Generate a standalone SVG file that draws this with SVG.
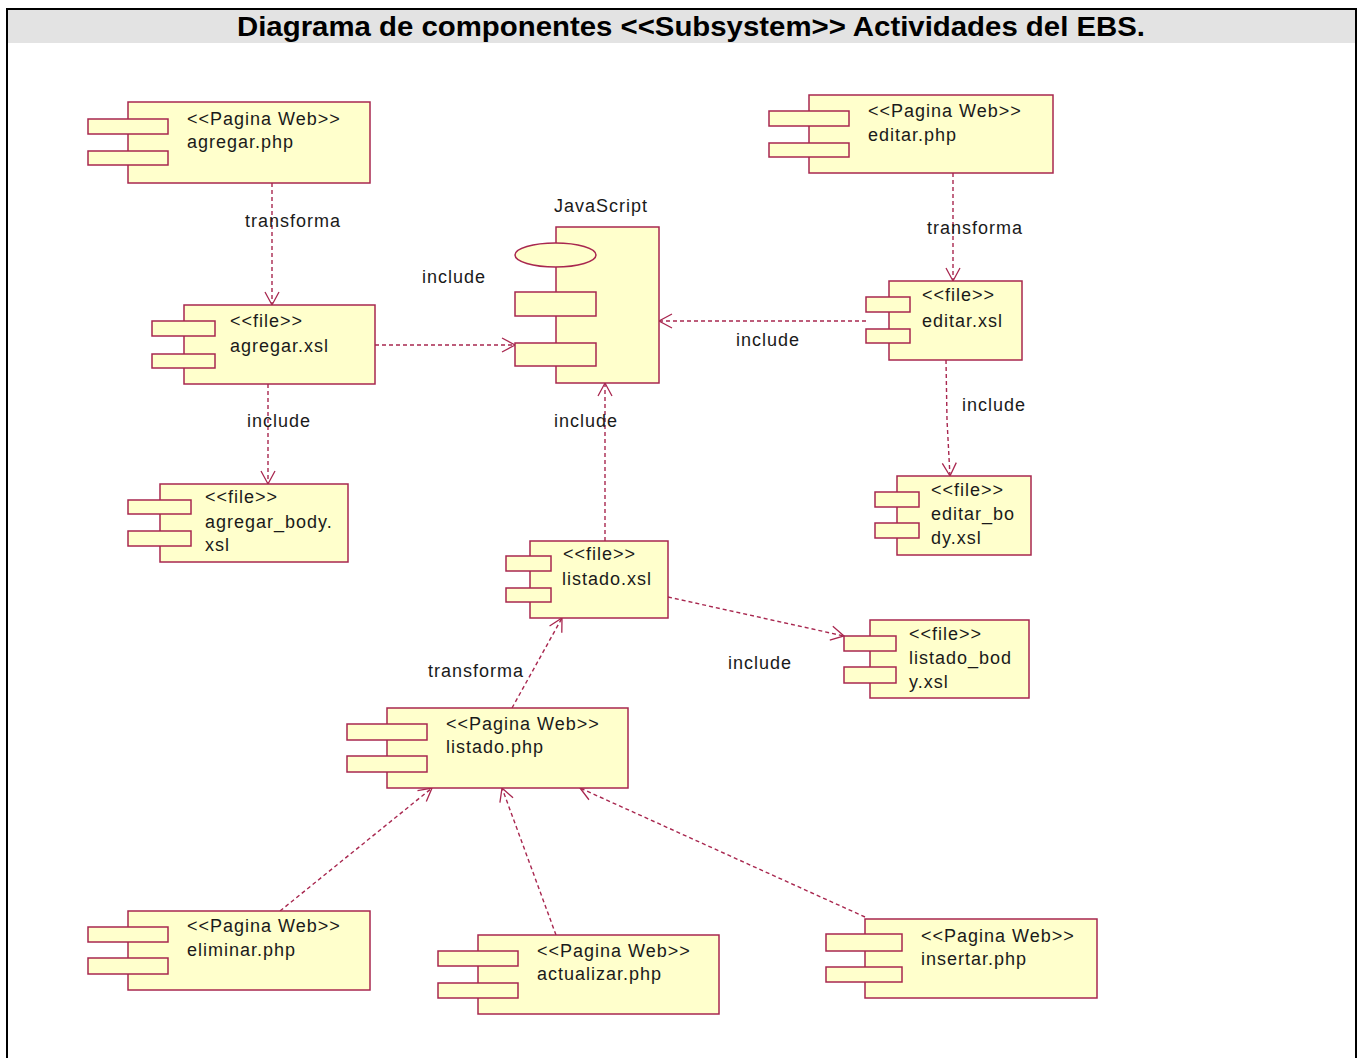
<svg xmlns="http://www.w3.org/2000/svg" width="1363" height="1058" viewBox="0 0 1363 1058">
  <style>
    .frame { fill: none; stroke: #000; stroke-width: 2; }
    .band { fill: #e3e3e3; }
    .title { font-family: "Liberation Sans", Arial, sans-serif; font-weight: bold; font-size: 27px; fill: #000; }
    .body { fill: #ffffcc; stroke: #a8274f; stroke-width: 1.5; }
    .port { fill: #ffffcc; stroke: #a8274f; stroke-width: 1.5; }
    .txt { font-family: "Liberation Sans", Arial, sans-serif; font-size: 18px; letter-spacing: 1px; fill: #1a1a1a; }
    .dep { fill: none; stroke: #a8274f; stroke-width: 1.4; stroke-dasharray: 4 3; marker-end: url(#open); }
  </style>
  <defs>
    <marker id="open" markerUnits="userSpaceOnUse" markerWidth="18" markerHeight="18" refX="14" refY="8" orient="auto">
      <path d="M1,1 L14,8 L1,15" fill="none" stroke="#a8274f" stroke-width="1.3"/>
    </marker>
  </defs>

  <rect x="0" y="0" width="1363" height="1058" fill="#ffffff"/>
  <rect class="band" x="8" y="10" width="1347" height="33"/>
  <rect class="frame" x="7" y="9" width="1349" height="1060"/>
  <text class="title" x="691" y="36" text-anchor="middle" textLength="908" lengthAdjust="spacingAndGlyphs">Diagrama de componentes &lt;&lt;Subsystem&gt;&gt; Actividades del EBS.</text>

  <!-- dependencies -->
  <g id="connectors">
    <path class="dep" d="M272,183 L272,305"/>
    <path class="dep" d="M953,173 L953,281"/>
    <path class="dep" d="M375,345 L515,345"/>
    <path class="dep" d="M866,321 L659,321"/>
    <path class="dep" d="M946,360 L947,420 L950,476"/>
    <path class="dep" d="M268,384 L268,484"/>
    <path class="dep" d="M605,541 L605,383"/>
    <path class="dep" d="M668,597 L844,636"/>
    <path class="dep" d="M512,708 L562,618"/>
    <path class="dep" d="M280,911 L432,788"/>
    <path class="dep" d="M556,935 L502,788"/>
    <path class="dep" d="M865,917 L580,788"/>
    <text class="txt" x="245" y="227">transforma</text>
    <text class="txt" x="927" y="234">transforma</text>
    <text class="txt" x="422" y="283">include</text>
    <text class="txt" x="736" y="346">include</text>
    <text class="txt" x="962" y="411">include</text>
    <text class="txt" x="247" y="427">include</text>
    <text class="txt" x="554" y="427">include</text>
    <text class="txt" x="728" y="669">include</text>
    <text class="txt" x="428" y="677">transforma</text>
  </g>

  <g id="agregar-php">
    <rect class="body" x="128" y="102" width="242" height="81"/>
    <rect class="port" x="88" y="119" width="80" height="15"/>
    <rect class="port" x="88" y="151" width="80" height="14"/>
    <text class="txt" x="187" y="125">&lt;&lt;Pagina Web&gt;&gt;</text>
    <text class="txt" x="187" y="148">agregar.php</text>
  </g>

  <g id="editar-php">
    <rect class="body" x="809" y="95" width="244" height="78"/>
    <rect class="port" x="769" y="111" width="80" height="15"/>
    <rect class="port" x="769" y="143" width="80" height="14"/>
    <text class="txt" x="868" y="117">&lt;&lt;Pagina Web&gt;&gt;</text>
    <text class="txt" x="868" y="141">editar.php</text>
  </g>

  <g id="agregar-xsl">
    <rect class="body" x="184" y="305" width="191" height="79"/>
    <rect class="port" x="152" y="321" width="63" height="15"/>
    <rect class="port" x="152" y="354" width="63" height="14"/>
    <text class="txt" x="230" y="327">&lt;&lt;file&gt;&gt;</text>
    <text class="txt" x="230" y="352">agregar.xsl</text>
  </g>

  <g id="javascript">
    <text class="txt" x="601" y="212" text-anchor="middle">JavaScript</text>
    <rect class="body" x="556" y="227" width="103" height="156"/>
    <ellipse class="port" cx="555.5" cy="255" rx="40.5" ry="12"/>
    <rect class="port" x="515" y="292" width="81" height="24"/>
    <rect class="port" x="515" y="343" width="81" height="23"/>
  </g>

  <g id="editar-xsl">
    <rect class="body" x="889" y="281" width="133" height="79"/>
    <rect class="port" x="866" y="297" width="44" height="15"/>
    <rect class="port" x="866" y="329" width="44" height="14"/>
    <text class="txt" x="922" y="301">&lt;&lt;file&gt;&gt;</text>
    <text class="txt" x="922" y="327">editar.xsl</text>
  </g>

  <g id="editar-body-xsl">
    <rect class="body" x="897" y="476" width="134" height="79"/>
    <rect class="port" x="875" y="492" width="44" height="15"/>
    <rect class="port" x="875" y="523" width="44" height="15"/>
    <text class="txt" x="931" y="496">&lt;&lt;file&gt;&gt;</text>
    <text class="txt" x="931" y="520">editar_bo</text>
    <text class="txt" x="931" y="544">dy.xsl</text>
  </g>

  <g id="agregar-body-xsl">
    <rect class="body" x="160" y="484" width="188" height="78"/>
    <rect class="port" x="128" y="500" width="63" height="14"/>
    <rect class="port" x="128" y="531" width="63" height="15"/>
    <text class="txt" x="205" y="503">&lt;&lt;file&gt;&gt;</text>
    <text class="txt" x="205" y="528">agregar_body.</text>
    <text class="txt" x="205" y="551">xsl</text>
  </g>

  <g id="listado-xsl">
    <rect class="body" x="530" y="541" width="138" height="77"/>
    <rect class="port" x="506" y="556" width="45" height="15"/>
    <rect class="port" x="506" y="588" width="45" height="14"/>
    <text class="txt" x="563" y="560">&lt;&lt;file&gt;&gt;</text>
    <text class="txt" x="562" y="585">listado.xsl</text>
  </g>

  <g id="listado-body-xsl">
    <rect class="body" x="870" y="620" width="159" height="78"/>
    <rect class="port" x="844" y="636" width="52" height="15"/>
    <rect class="port" x="844" y="667" width="52" height="16"/>
    <text class="txt" x="909" y="640">&lt;&lt;file&gt;&gt;</text>
    <text class="txt" x="909" y="664">listado_bod</text>
    <text class="txt" x="909" y="688">y.xsl</text>
  </g>

  <g id="listado-php">
    <rect class="body" x="387" y="708" width="241" height="80"/>
    <rect class="port" x="347" y="724" width="80" height="16"/>
    <rect class="port" x="347" y="756" width="80" height="16"/>
    <text class="txt" x="446" y="730">&lt;&lt;Pagina Web&gt;&gt;</text>
    <text class="txt" x="446" y="753">listado.php</text>
  </g>

  <g id="eliminar-php">
    <rect class="body" x="128" y="911" width="242" height="79"/>
    <rect class="port" x="88" y="927" width="80" height="15"/>
    <rect class="port" x="88" y="958" width="80" height="16"/>
    <text class="txt" x="187" y="932">&lt;&lt;Pagina Web&gt;&gt;</text>
    <text class="txt" x="187" y="956">eliminar.php</text>
  </g>

  <g id="actualizar-php">
    <rect class="body" x="478" y="935" width="241" height="79"/>
    <rect class="port" x="438" y="951" width="80" height="15"/>
    <rect class="port" x="438" y="983" width="80" height="15"/>
    <text class="txt" x="537" y="957">&lt;&lt;Pagina Web&gt;&gt;</text>
    <text class="txt" x="537" y="980">actualizar.php</text>
  </g>

  <g id="insertar-php">
    <rect class="body" x="865" y="919" width="232" height="79"/>
    <rect class="port" x="826" y="934" width="76" height="17"/>
    <rect class="port" x="826" y="967" width="76" height="15"/>
    <text class="txt" x="921" y="942">&lt;&lt;Pagina Web&gt;&gt;</text>
    <text class="txt" x="921" y="965">insertar.php</text>
  </g>
</svg>
